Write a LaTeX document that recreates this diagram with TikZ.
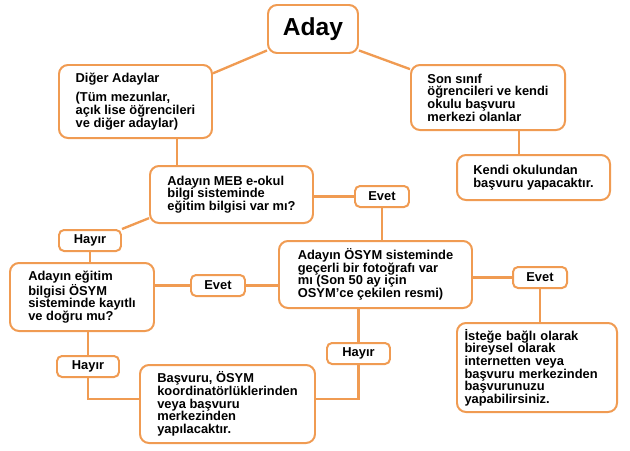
\documentclass[tikz,border=0pt]{standalone}
\usepackage{fontspec}
\setmainfont{Liberation Sans}
\usetikzlibrary{positioning}
\definecolor{boxorange}{RGB}{240,155,82}
\pgfdeclarelayer{background}
\pgfsetlayers{background,main}
\begin{document}
\begin{tikzpicture}[
        box/.style={rectangle, rounded corners=2.7mm, draw=boxorange, line width=1.7pt, fill=white, align=left, font=\bfseries\fontsize{11}{10.8}\selectfont},
        tag/.style={rectangle, rounded corners=1.5mm, draw=boxorange, line width=1.7pt, fill=white, minimum width=1.62cm, minimum height=0.63cm, inner sep=0pt, font=\bfseries\fontsize{11}{10.8}\selectfont},
        link/.style={draw=boxorange, line width=2pt}
    ]
    \useasboundingbox (0,0) rectangle (18.9,-13.5);

    % Top level
    \node[box, minimum width=2.7cm, minimum height=1.44cm, font=\bfseries\fontsize{21}{24}\selectfont] (aday) at (9.39,-0.87) {Aday};
    \node[box, minimum width=4.59cm, minimum height=2.19cm] (diger) at (4.065,-3.045) {Diğer Adaylar\\[0.2cm](Tüm mezunlar,\\açık lise öğrencileri\\ve diğer adaylar)};
    \node[box, minimum width=4.62cm, minimum height=1.95cm] (sonsinif) at (14.64,-2.925) {Son sınıf\\öğrencileri ve kendi\\okulu başvuru\\merkezi olanlar};
    \node[box, minimum width=4.59cm, minimum height=1.35cm] (kendi) at (16.005,-5.325) {Kendi okulundan\\başvuru yapacaktır.};

    % Questions
    \node[box, minimum width=4.89cm, minimum height=1.71cm] (meb) at (6.945,-5.835) {Adayın MEB e-okul\\bilgi sisteminde\\eğitim bilgisi var mı?};
    \node[box, minimum width=4.32cm, minimum height=2.04cm] (egitim) at (2.46,-8.91) {Adayın eğitim\\bilgisi ÖSYM\\sisteminde kayıtlı\\ve doğru mu?};
    \node[box, minimum width=5.79cm, minimum height=2.01cm] (osym) at (11.265,-8.235) {Adayın ÖSYM sisteminde\\geçerli bir fotoğrafı var\\mı (Son 50 ay için\\OSYM'ce çekilen resmi)};

    % Results
    \node[box, minimum width=4.8cm, minimum height=2.67cm, text width=4.35cm, inner xsep=0.21cm] (istege) at (16.11,-11.025) {İsteğe bağlı olarak\\bireysel olarak\\internetten veya\\başvuru merkezinden\\başvurunuzu\\yapabilirsiniz.};
    \node[box, minimum width=5.25cm, minimum height=2.34cm] (basvuru) at (6.825,-12.12) {Başvuru, ÖSYM\\koordinatörlüklerinden\\veya başvuru\\merkezinden\\yapılacaktır.};

    % Answers
    \node[tag] (evetA) at (11.46,-5.895) {Evet};
    \node[tag, minimum width=1.86cm] (hayirA) at (2.7,-7.215) {Hayır};
    \node[tag] (evetB) at (6.54,-8.565) {Evet};
    \node[tag] (evetC) at (16.2,-8.325) {Evet};
    \node[tag, minimum width=1.89cm] (hayirB) at (10.755,-10.605) {Hayır};
    \node[tag, minimum width=1.86cm] (hayirC) at (2.64,-10.995) {Hayır};

    \begin{pgfonlayer}{background}
    \draw[link] (aday.205) -- (diger.20);
    \draw[link] (aday.-25) -- (sonsinif.160);
    \draw[link] ([xshift=1.25cm]diger.south) -- ([xshift=1.25cm]diger.south |- meb.north);
    \draw[link] ([xshift=0.93cm]sonsinif.south) -- ([xshift=0.93cm]sonsinif.south |- kendi.north);
    \draw[link] (evetA.west) -- (evetA.west -| meb.east);
    \draw[link] (evetA.south) -- (evetA.south |- osym.north);
    \draw[link] (meb.196) -- (hayirA.north east);
    \draw[link] (hayirA.south) -- (hayirA.south |- egitim.north);
    \draw[link] (evetB.west) -- (evetB.west -| egitim.east);
    \draw[link] (evetB.east) -- (evetB.east -| osym.west);
    \draw[link] (evetC.west) -- (evetC.west -| osym.east);
    \draw[link] (evetC.south) -- (evetC.south |- istege.north);
    \draw[link] (hayirC.north) -- (hayirC.north |- egitim.south);
    \draw[link] (hayirC.south) |- ([yshift=0.15cm]basvuru.west);
    \draw[link] (hayirB.north) -- (hayirB.north |- osym.south);
    \draw[link] (hayirB.south) |- ([yshift=0.15cm]basvuru.east);
    \end{pgfonlayer}

    \end{tikzpicture}
\end{document}
